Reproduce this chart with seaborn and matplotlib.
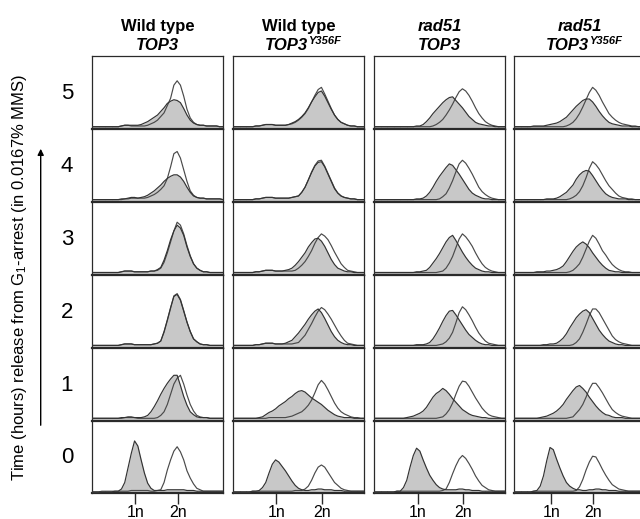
import matplotlib
matplotlib.use("Agg")
import matplotlib.pyplot as plt
from matplotlib.patches import FancyArrowPatch
import seaborn as sns

sns.set_theme(style="white")
plt.rcParams["font.family"] = ["Liberation Sans", "DejaVu Sans"]
plt.rcParams["mathtext.fontset"] = "custom"
plt.rcParams["mathtext.rm"] = "Liberation Sans"
plt.rcParams["text.color"] = "black"

# ---------------- data ----------------
# DNA content channel (percent of panel width)
BINS = [0, 2.5, 5, 7.5, 10, 12.5, 15, 17.5, 20, 22.5, 25, 27.5, 30, 32.5, 35, 37.5,
        40, 42.5, 45, 47.5, 50, 52.5, 55, 57.5, 60, 62.5, 65, 67.5, 70, 72.5, 75, 77.5,
        80, 82.5, 85, 87.5, 90, 92.5, 95, 97.5, 100]
TIMES = ["0", "1", "2", "3", "4", "5"]
COL_LINE1 = ["Wild type", "Wild type", "rad51", "rad51"]
COL_LINE1_ITALIC = [False, False, True, True]
COL_LINE2 = ["TOP3", "TOP3", "TOP3", "TOP3"]
COL_SUPER = ["", "Y356F", "", "Y356F"]
TICK_LABELS = ["1n", "2n"]
TICK_1N = [33, 33, 33.5, 28.5]
TICK_2N = [66, 68, 68, 60]

# rows ordered 0 h ... 5 h ; values = percent of panel height
WT_TOP3_FILLED = [
    [2,2,2,2,2,2,2,3, 3,6,15,35,55,72,65,46, 28,14,7,4,4,4,4,5, 5,5,5,5,5,4,4,4, 3,3,3,3,3,3,3,3,3],
    [3,3,3,3,3,3,3,3, 3,4,4,5,5,4,4,4, 5,7,12,19,27,36,44,51, 57,62,62,48,33,21,12,8, 5,4,4,4,3,3,3,3,3],
    [3,3,3,3,3,3,3,3, 3,4,5,5,5,4,4,4, 4,4,4,5,6,9,22,38, 55,70,73,65,50,35,22,12, 8,5,4,4,3,3,3,3,3],
    [3,3,3,3,3,3,3,3, 3,4,5,5,5,4,4,4, 4,4,5,5,7,10,20,33, 48,60,68,64,54,38,25,15, 9,6,4,4,3,3,3,3,3],
    [3,3,3,3,3,3,3,3, 3,4,4,5,6,6,5,6, 7,9,12,15,19,23,28,32, 35,37,37,34,28,20,13,8, 6,5,5,4,4,4,4,4,3],
    [3,3,3,3,3,3,3,3, 3,4,5,5,5,5,5,6, 8,10,13,16,19,24,29,35, 38,40,39,36,28,19,12,8, 6,5,5,4,4,4,4,3,3],
]
WT_TOP3_OPEN = [
    [2,2,2,3,3,3,3,3, 3,3,3,3,4,4,4,4, 4,4,3,3,4,5,15,32, 46,58,64,57,46,31,21,13, 7,5,3,3,3,3,3,3,3],
    [3,3,3,3,3,3,3,3, 3,3,4,4,4,4,3,3, 3,3,3,3,4,7,12,22, 36,50,58,62,50,35,22,13, 7,5,4,4,3,3,3,3,3],
    [3,3,3,3,3,3,3,3, 3,4,5,5,5,4,4,4, 4,4,4,5,6,9,21,37, 54,71,74,66,51,35,22,12, 8,5,4,4,3,3,3,3,3],
    [3,3,3,3,3,3,3,3, 3,4,5,5,5,4,4,4, 4,4,5,5,6,9,17,30, 45,60,72,68,56,40,26,15, 9,6,4,4,3,3,3,3,3],
    [3,3,3,3,3,3,3,3, 3,3,4,4,5,5,5,5, 5,6,8,10,13,17,22,32, 48,66,69,60,44,28,15,9, 6,5,5,4,4,4,4,4,3],
    [3,3,3,3,3,3,3,3, 3,4,5,5,4,4,4,4, 4,5,7,9,12,17,22,32, 42,60,66,60,45,27,15,9, 6,5,5,4,4,4,4,3,3],
]
WT_Y356F_FILLED = [
    [2,2,2,2,2,2,3,3, 4,8,15,28,40,46,43,37, 31,24,17,11,7,5,4,4, 5,5,6,6,5,5,5,4, 4,4,3,3,3,3,3,3,3],
    [3,3,3,3,3,3,3,3, 4,5,8,11,13,16,20,23, 26,30,33,37,40,41,39,35, 31,28,25,22,18,14,11,8, 6,5,4,4,4,3,3,3,3],
    [3,3,3,3,3,3,3,4, 4,5,6,6,6,5,5,5, 6,8,10,15,20,26,32,39, 45,50,53,48,40,31,22,15, 10,7,5,4,4,3,3,3,3],
    [3,3,3,3,3,3,3,4, 4,5,6,6,6,5,5,5, 6,7,9,13,18,24,30,38, 44,49,50,46,39,30,21,14, 9,7,5,4,4,3,3,3,3],
    [3,3,3,3,3,3,3,4, 4,5,6,6,6,5,5,5, 5,5,6,7,8,13,20,30, 40,49,54,55,48,38,28,18, 12,8,6,5,4,4,3,3,3],
    [3,3,3,3,3,3,3,4, 4,5,6,6,6,5,5,5, 5,6,8,10,13,17,22,29, 37,44,50,52,45,36,27,19, 13,9,7,5,4,4,3,3,3],
]
WT_Y356F_OPEN = [
    [2,2,2,2,2,2,3,3, 3,3,3,3,3,3,3,3, 3,3,3,4,4,4,6,10, 18,28,36,39,36,29,22,15, 11,7,5,4,3,3,3,3,3],
    [3,3,3,3,3,3,3,3, 3,3,3,4,4,4,4,4, 4,5,6,8,10,12,16,21, 28,38,49,55,50,42,33,24, 17,12,9,7,5,4,4,3,3],
    [3,3,3,3,3,3,3,4, 4,5,6,6,6,5,5,5, 5,5,5,6,7,12,17,25, 33,42,50,55,52,46,39,31, 23,16,10,6,5,4,3,3,3],
    [3,3,3,3,3,3,3,4, 4,5,6,6,6,5,5,5, 5,5,5,6,9,13,18,25, 33,43,51,56,53,48,40,31, 23,15,10,6,5,4,3,3,3],
    [3,3,3,3,3,3,3,4, 4,5,6,6,6,5,5,5, 5,5,6,7,8,13,20,30, 41,50,56,57,49,39,29,19, 12,8,6,5,4,4,3,3,3],
    [3,3,3,3,3,3,3,4, 4,5,6,6,6,5,5,5, 5,6,7,9,12,16,21,28, 37,46,54,57,48,38,28,19, 13,9,7,5,4,4,3,3,3],
]
RAD51_TOP3_FILLED = [
    [2,2,2,2,2,2,2,3, 3,8,18,36,52,62,58,46, 35,25,18,12,8,6,5,5, 5,5,6,6,5,5,4,4, 4,3,3,3,3,3,3,3,3],
    [3,3,3,3,3,3,3,3, 3,3,4,5,6,8,10,13, 18,25,32,37,40,44,41,36, 30,25,20,15,12,9,7,6, 5,4,4,3,3,3,3,3,3],
    [3,3,3,3,3,3,3,3, 3,3,3,3,3,4,4,4, 5,7,12,19,27,36,44,50, 51,45,38,31,24,18,14,10, 7,5,4,4,3,3,3,3,3],
    [3,3,3,3,3,3,3,3, 3,3,3,3,3,4,4,5, 6,10,16,22,29,37,45,51, 54,47,39,31,24,18,13,9, 7,5,4,4,3,3,3,3,3],
    [3,3,3,3,3,3,3,3, 3,3,3,3,3,4,4,5, 8,13,20,28,35,41,47,52, 50,44,38,31,24,17,12,9, 7,5,4,4,3,3,3,3,3],
    [3,3,3,3,3,3,3,3, 3,3,3,3,3,4,4,6, 10,15,21,26,31,36,40,43, 44,39,34,29,23,17,13,9, 7,6,5,4,4,3,3,3,3],
]
RAD51_TOP3_OPEN = [
    [2,2,2,2,2,2,2,3, 3,3,3,3,3,3,3,3, 3,3,3,3,3,4,6,15, 27,38,47,52,48,41,33,24, 17,11,8,5,4,3,3,3,3],
    [3,3,3,3,3,3,3,3, 3,3,3,3,3,3,3,3, 3,3,3,3,4,5,9,15, 24,36,47,54,53,47,39,31, 24,17,12,8,6,5,4,3,3],
    [3,3,3,3,3,3,3,3, 3,3,3,3,3,3,3,3, 3,3,3,3,4,5,8,13, 21,34,48,56,52,45,37,28, 20,14,9,6,5,4,3,3,3],
    [3,3,3,3,3,3,3,3, 3,3,3,3,3,3,3,3, 3,3,3,3,4,5,9,16, 25,37,49,56,52,46,39,30, 22,15,10,7,5,4,3,3,3],
    [3,3,3,3,3,3,3,3, 3,3,3,3,3,3,3,3, 3,3,3,3,4,7,11,19, 29,41,52,57,53,46,38,29, 20,14,10,7,5,4,3,3,3],
    [3,3,3,3,3,3,3,3, 3,3,3,3,3,3,3,3, 3,3,4,6,9,13,19,26, 34,43,51,55,52,46,38,29, 21,15,10,7,5,4,3,3,3],
]
RAD51_Y356F_FILLED = [
    [2,2,2,2,2,2,3,4, 10,24,45,63,60,47,35,24, 15,10,7,5,5,4,4,5, 5,6,6,5,5,4,4,4, 3,3,3,3,3,3,3,3,3],
    [3,3,3,3,3,3,3,3, 4,5,6,8,10,13,17,22, 29,35,41,46,48,44,39,32, 26,20,15,11,8,7,5,4, 4,4,3,3,3,3,3,3,3],
    [3,3,3,3,3,3,3,3, 3,4,4,5,5,6,9,13, 19,27,34,41,46,50,52,48, 40,32,24,18,13,9,7,5, 4,4,3,3,3,3,3,3,3],
    [3,3,3,3,3,3,3,4, 4,4,5,5,6,7,9,12, 18,25,32,38,42,45,42,37, 30,24,18,13,9,6,5,4, 4,3,3,3,3,3,3,3,3],
    [3,3,3,3,3,3,3,3, 3,3,4,4,4,5,7,10, 13,18,23,31,37,41,43,42, 36,29,22,16,11,8,6,5, 4,4,4,3,3,3,3,3,3],
    [3,3,3,3,3,3,4,4, 4,4,5,6,7,8,10,13, 16,21,26,31,35,39,41,41, 37,31,24,18,13,9,7,6, 5,4,4,4,3,3,3,3,3],
]
RAD51_Y356F_OPEN = [
    [2,2,2,2,2,2,3,3, 3,3,3,3,3,3,3,3, 3,3,3,4,9,19,32,43, 51,50,42,33,25,18,12,9, 6,5,4,3,3,3,3,3,3],
    [3,3,3,3,3,3,3,3, 3,3,3,3,3,3,3,3, 3,4,5,10,15,22,32,43, 51,51,45,38,30,22,15,11, 8,6,5,4,3,3,3,3,3],
    [3,3,3,3,3,3,3,3, 3,3,3,3,3,3,3,3, 3,3,4,7,12,21,32,44, 53,53,48,40,32,24,16,11, 8,6,5,4,3,3,3,3,3],
    [3,3,3,3,3,3,3,3, 3,3,3,3,3,3,3,3, 3,4,6,10,15,24,35,46, 54,50,42,33,27,20,14,10, 7,5,4,4,3,3,3,3,3],
    [3,3,3,3,3,3,3,3, 3,3,3,3,3,3,3,3, 3,4,6,9,14,22,33,46, 55,51,45,37,29,22,17,12, 8,6,5,4,4,3,3,3,3],
    [3,3,3,3,3,3,3,3, 3,3,3,3,3,3,3,3, 4,6,9,14,21,30,40,50, 57,53,46,37,29,21,16,12, 9,7,6,5,4,4,3,3,3],
]

FILLED = [WT_TOP3_FILLED, WT_Y356F_FILLED, RAD51_TOP3_FILLED, RAD51_Y356F_FILLED]
OPEN = [WT_TOP3_OPEN, WT_Y356F_OPEN, RAD51_TOP3_OPEN, RAD51_Y356F_OPEN]

# ---------------- layout ----------------
W, H = 640, 519
fig = plt.figure(figsize=(W / 100, H / 100), dpi=100)
fig.patch.set_facecolor("white")

COL_LEFT = [92, 233, 374, 514]
PANEL_W = 131
TOP = 56
ROW_H = 72.9
FILL_C = "#c8c8c8"
EDGE_DARK = "#333333"
EDGE_OPEN = "#4a4a4a"
FRAME_C = "#2a2a2a"


def fx(px):
    return px / W


def fy(py):
    return 1 - py / H


n_rows = len(TIMES)
for c in range(4):
    for r_top in range(n_rows):
        t_idx = n_rows - 1 - r_top
        y_top = TOP + r_top * ROW_H
        ax = fig.add_axes([fx(COL_LEFT[c]), fy(y_top + ROW_H), PANEL_W / W, ROW_H / H])
        ax.set_facecolor("white")
        filled = FILLED[c][t_idx]
        opened = OPEN[c][t_idx]
        ax.fill_between(BINS, 0, filled, color=FILL_C, lw=0, zorder=1)
        sns.lineplot(x=BINS, y=opened, ax=ax, color=EDGE_OPEN, linewidth=0.85,
                     estimator=None, sort=False, legend=False, zorder=3)
        sns.lineplot(x=BINS, y=filled, ax=ax, color=EDGE_DARK, linewidth=0.85,
                     estimator=None, sort=False, legend=False, zorder=4)
        ax.set_xlim(0, 100)
        ax.set_ylim(0, 100)
        ax.set_xlabel("")
        ax.set_ylabel("")
        ax.set_yticks([])
        for s in ax.spines.values():
            s.set_visible(True)
            s.set_color(FRAME_C)
            s.set_linewidth(0.9)
        ax.spines["bottom"].set_linewidth(1.6)
        ax.set_xticks(list(range(0, 101, 5)), minor=True)
        ax.tick_params(axis="x", which="minor", direction="in", length=1.8,
                       width=0.6, color="#555555", bottom=True)
        if t_idx == 0:
            ax.set_xticks([TICK_1N[c], TICK_2N[c]])
            ax.set_xticklabels(TICK_LABELS)
            ax.tick_params(axis="x", which="major", direction="out", length=8,
                           width=1.0, color=FRAME_C, pad=0.5, labelsize=11.5,
                           labelcolor="black", bottom=True)
        else:
            ax.set_xticks([])

# column headers
for c in range(4):
    cx = COL_LEFT[c] + PANEL_W / 2
    fig.text(fx(cx), fy(31), COL_LINE1[c], ha="center", va="baseline",
             fontsize=12, fontweight="bold", color="black",
             fontstyle="italic" if COL_LINE1_ITALIC[c] else "normal")
    if COL_SUPER[c]:
        main = fig.text(0, fy(50), COL_LINE2[c], ha="left", va="baseline",
                        fontsize=12, fontweight="bold", fontstyle="italic", color="black")
        sup = fig.text(0, fy(43.5), COL_SUPER[c], ha="left", va="baseline",
                       fontsize=8, fontweight="bold", fontstyle="italic", color="black")
        fig.canvas.draw()
        rend = fig.canvas.get_renderer()
        w_main = main.get_window_extent(rend).width
        w_sup = sup.get_window_extent(rend).width
        start = cx + 4 - (w_main + w_sup) / 2
        main.set_x(fx(start))
        sup.set_x(fx(start + w_main + 0.5))
    else:
        fig.text(fx(cx), fy(50), COL_LINE2[c], ha="center", va="baseline",
                 fontsize=12, fontweight="bold", fontstyle="italic", color="black")

# row labels
for r_top in range(n_rows):
    t_idx = n_rows - 1 - r_top
    yc = TOP + r_top * ROW_H + ROW_H / 2 + 1
    fig.text(fx(67), fy(yc), TIMES[t_idx], ha="center", va="center", fontsize=16,
             color="black")

# y axis title and arrow
fig.text(fx(20), fy((72 + 483) / 2),
         r"Time (hours) release from G$\mathregular{_1}$-arrest (in 0.0167% MMS)",
         rotation=90, ha="center", va="center", fontsize=12, color="black")
fig.add_artist(FancyArrowPatch((fx(40.7), fy(428)), (fx(40.7), fy(146)),
                               transform=fig.transFigure, arrowstyle="-|>",
                               mutation_scale=9, lw=1.0, color="black"))

fig.savefig("out.png", dpi=100, facecolor="white")
